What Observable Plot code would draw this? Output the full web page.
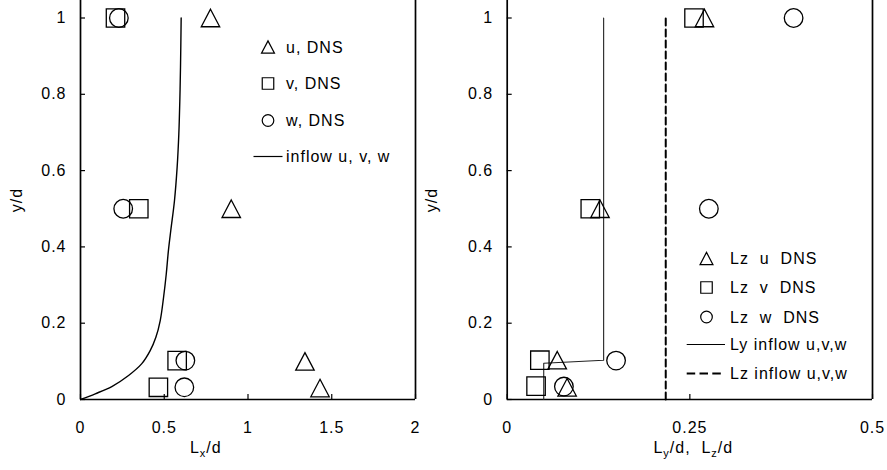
<!DOCTYPE html>
<html>
<head>
<meta charset="utf-8">
<script src="https://cdn.jsdelivr.net/npm/d3@7"></script>
<script src="https://cdn.jsdelivr.net/npm/@observablehq/plot@0.6"></script>
<style>
  body { margin: 0; background: #fff; }
  #wrap { position: relative; width: 887px; height: 470px; overflow: hidden; font-family: "Liberation Sans", Arial, sans-serif; }
  #left { position: absolute; left: 0; top: 0; }
  #right { position: absolute; left: 420px; top: 0; }
  #wrap svg text { letter-spacing: 1px; }
</style>
</head>
<body>
<div id="wrap"><div id="left"></div><div id="right"></div></div>
<script>
// ---------- data ----------
// measurement heights (y/d) of DNS points
const yDNS = [1.0, 0.5, 0.1, 0.03];

// left panel: streamwise length scale Lx/d
const lxU = [0.776, 0.90, 1.34, 1.43];
const lxV = [0.209, 0.348, 0.577, 0.465];
const lxW = [0.229, 0.255, 0.626, 0.62];
const lxVy = [1.0, 0.5, 0.102, 0.032];
const lxWy = [1.0, 0.5, 0.102, 0.032];
// inflow profile (left)
const inflowLxX = [0, 0.088, 0.187, 0.287, 0.366, 0.416, 0.450, 0.476, 0.496, 0.512, 0.525, 0.539, 0.561, 0.577, 0.587, 0.593, 0.597, 0.601];
const inflowLxY = [0, 0.015, 0.034, 0.063, 0.094, 0.128, 0.163, 0.207, 0.268, 0.329, 0.391, 0.443, 0.521, 0.609, 0.696, 0.784, 0.871, 1.0];

// right panel: Lz DNS
const lzU = [0.270, 0.127, 0.0685, 0.082];
const lzV = [0.2557, 0.1137, 0.0447, 0.0395];
const lzW = [0.392, 0.276, 0.149, 0.0776];
const lzUy = [1.0, 0.5, 0.103, 0.032];
const lzVy = [1.0, 0.5, 0.103, 0.035];
const lzWy = [1.0, 0.5, 0.102, 0.034];
// Ly inflow (solid) and Lz inflow (dashed)
const lyInflowX = [0.05, 0.05, 0.132, 0.132];
const lyInflowY = [0, 0.095, 0.103, 1.0];
const lzInflowX = [0.217, 0.217];
const lzInflowY = [0, 1.0];

// ticks
const yTicks = [0, 0.2, 0.4, 0.6, 0.8, 1];
const yTickLabels = ["0", "0.2", "0.4", "0.6", "0.8", "1"];
const leftXTicks = [0, 0.5, 1, 1.5, 2];
const leftXTickLabels = ["0", "0.5", "1", "1.5", "2"];
const rightXTicks = [0, 0.25, 0.5];
const rightXTickLabels = ["0", "0.25", "0.5"];

// legend labels
const leftLegend = ["u, DNS", "v, DNS", "w, DNS", "inflow u, v, w"];
const rightLegend = ["Lz\u00a0 u\u00a0 DNS", "Lz\u00a0 v\u00a0 DNS", "Lz\u00a0 w\u00a0 DNS", "Ly inflow u,v,w", "Lz inflow u,v,w"];

// ---------- helpers ----------
const triUp = {
  draw(ctx, size) {
    const s = Math.sqrt(size);
    const h = s * 0.95;
    ctx.moveTo(0, -h / 2);
    ctx.lineTo(s / 2, h / 2);
    ctx.lineTo(-s / 2, h / 2);
    ctx.closePath();
  }
};
const zip = (xs, ys) => xs.map((x, i) => ({x, y: ys[i]}));
const yTop = 399 / 381.5;
const fmt = (ticks, labels) => d => labels[ticks.indexOf(d)];
const style = {fontFamily: "'Liberation Sans', Arial, sans-serif", fontSize: "16px", color: "#000", background: "#fff", overflow: "visible"};

function axes(xTicks, xLabels, xDomain) {
  return [
    Plot.axisX({ticks: xTicks, tickSize: 0, tickPadding: 22, tickFormat: fmt(xTicks, xLabels), label: null, fontSize: 16}),
    Plot.axisX({ticks: xTicks, tickSize: 5, dy: -5, tickFormat: () => "", label: null, strokeWidth: 1.2}),
    Plot.axisY({ticks: yTicks, tickSize: 0, tickPadding: 14, tickFormat: fmt(yTicks, yTickLabels), label: null, fontSize: 16}),
    Plot.axisY({ticks: yTicks, tickSize: 5, dx: 5, tickFormat: () => "", label: null, strokeWidth: 1.2}),
    Plot.ruleX(xDomain, {stroke: "#000", strokeWidth: 1.7}),
    Plot.ruleY([0], {stroke: "#000", strokeWidth: 1.7})
  ];
}

const R_TRI = 10.4, R_SQ = 10.4, R_CI = 9.3;
const markStyle = {stroke: "#000", fill: "none", strokeWidth: 1.3};

// ---------- left panel ----------
const leftPlot = Plot.plot({
  width: 420, height: 470,
  marginLeft: 80, marginRight: 5, marginTop: 0, marginBottom: 71,
  x: {domain: [0, 2]},
  y: {domain: [0, yTop]},
  style,
  marks: [
    ...axes(leftXTicks, leftXTickLabels, [0, 2]),
    Plot.line(zip(inflowLxX, inflowLxY), {x: "x", y: "y", curve: "catmull-rom", stroke: "#000", strokeWidth: 1.4}),
    Plot.dot(zip(lxV, lxVy), {x: "x", y: "y", symbol: "square", r: R_SQ, ...markStyle}),
    Plot.dot(zip(lxW, lxWy), {x: "x", y: "y", symbol: "circle", r: R_CI, ...markStyle}),
    Plot.dot(zip(lxU, yDNS), {x: "x", y: "y", symbol: triUp, r: R_TRI, ...markStyle})
  ]
});
document.getElementById("left").appendChild(leftPlot);

// ---------- right panel ----------
const rightPlot = Plot.plot({
  width: 467, height: 470,
  marginLeft: 86.7, marginRight: 15, marginTop: 0, marginBottom: 71,
  x: {domain: [0, 0.5]},
  y: {domain: [0, yTop]},
  style,
  marks: [
    ...axes(rightXTicks, rightXTickLabels, [0, 0.5]),
    Plot.line(zip(lyInflowX, lyInflowY), {x: "x", y: "y", stroke: "#222", strokeWidth: 1.1}),
    Plot.line(zip(lzInflowX, lzInflowY), {x: "x", y: "y", stroke: "#000", strokeWidth: 2, strokeDasharray: "7,4"}),
    Plot.dot(zip(lzV, lzVy), {x: "x", y: "y", symbol: "square", r: R_SQ, ...markStyle}),
    Plot.dot(zip(lzW, lzWy), {x: "x", y: "y", symbol: "circle", r: R_CI, ...markStyle}),
    Plot.dot(zip(lzU, lzUy), {x: "x", y: "y", symbol: triUp, r: R_TRI, ...markStyle})
  ]
});
document.getElementById("right").appendChild(rightPlot);

// ---------- legends & axis titles ----------
function drawSymbol(g, kind, x, y) {
  if (kind === "tri") {
    g.append("path").attr("d", d3.symbol(triUp, Math.PI * 7.3 * 7.3)()).attr("transform", `translate(${x},${y})`)
      .attr("fill", "none").attr("stroke", "#000").attr("stroke-width", 1.2);
  } else if (kind === "sq") {
    g.append("path").attr("d", d3.symbol(d3.symbolSquare, 11.5 * 11.5)()).attr("transform", `translate(${x},${y})`)
      .attr("fill", "none").attr("stroke", "#000").attr("stroke-width", 1.2);
  } else if (kind === "ci") {
    g.append("circle").attr("cx", x).attr("cy", y).attr("r", 5.8)
      .attr("fill", "none").attr("stroke", "#000").attr("stroke-width", 1.2);
  }
}
function legend(svgNode, kinds, labels, symX, lineX1, lineX2, textX, rows) {
  const g = d3.select(svgNode).append("g").attr("text-anchor", "start");
  kinds.forEach((k, i) => {
    const y = rows[i];
    if (k === "line" || k === "dash") {
      g.append("line").attr("x1", lineX1).attr("x2", lineX2).attr("y1", y).attr("y2", y)
        .attr("stroke", "#000").attr("stroke-width", k === "dash" ? 2 : 1.2)
        .attr("stroke-dasharray", k === "dash" ? "8.5,4.3" : null);
    } else {
      drawSymbol(g, k, symX, y);
    }
    g.append("text").attr("x", textX).attr("y", y).attr("dy", "0.36em")
      .attr("text-anchor", "start").attr("font-size", 16).attr("fill", "#000").text(labels[i]);
  });
}
legend(leftPlot, ["tri", "sq", "ci", "line"], leftLegend, 268, 253.5, 282.5, 286, [47, 83.5, 120.5, 156.5]);
legend(rightPlot, ["tri", "sq", "ci", "line", "dash"], rightLegend, 286.5, 266.7, 305, 310, [258.5, 287.5, 317, 344.5, 373.5]);

function subLabel(svgNode, x, y, parts) {
  const t = d3.select(svgNode).append("text").attr("x", x).attr("y", y)
    .attr("text-anchor", "middle").attr("font-size", 16).attr("fill", "#000")
    .style("white-space", "pre");
  parts.forEach(([s, sub]) => {
    const ts = t.append("tspan").text(s);
    if (sub) ts.attr("font-size", 11).attr("dy", 4);
    else ts.attr("dy", t.selectAll("tspan").size() > 1 ? -4 : 0);
  });
}
subLabel(leftPlot, 205.8, 453.3, [["L", false], ["x", true], ["/d", false]]);
subLabel(rightPlot, 273.3, 453.3, [["L", false], ["y", true], ["/d,  L", false], ["z", true], ["/d", false]]);

function yLabel(svgNode, x) {
  d3.select(svgNode).append("text").attr("transform", `translate(${x},200) rotate(-90)`)
    .attr("text-anchor", "middle").attr("font-size", 16).attr("fill", "#000").text("y/d");
}
yLabel(leftPlot, 21.6);
yLabel(rightPlot, 16.6);
</script>
</body>
</html>
